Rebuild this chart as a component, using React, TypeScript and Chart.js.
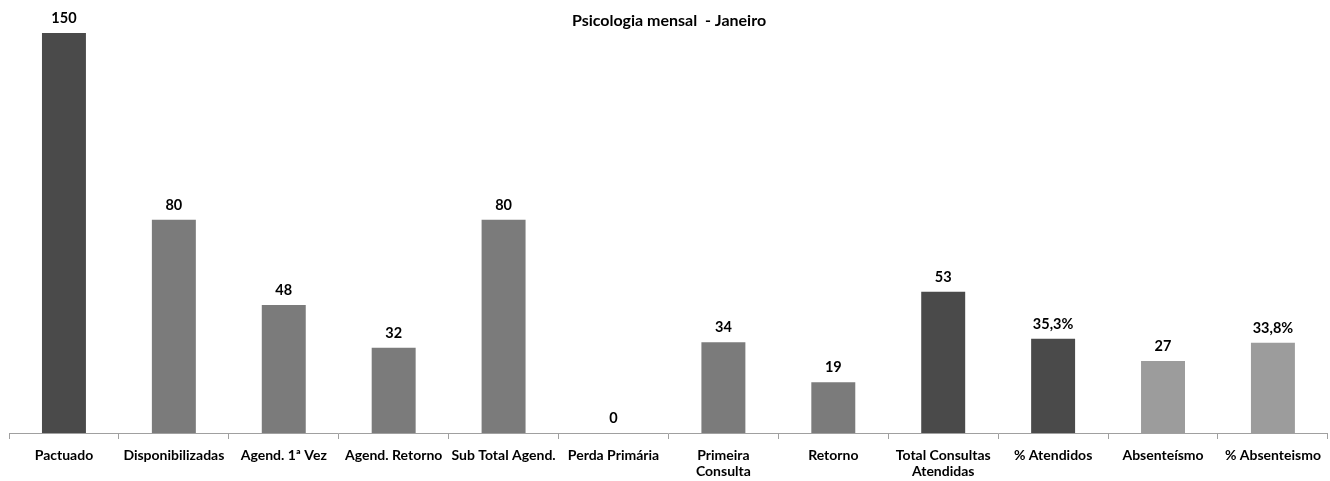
import React, { useEffect, useRef } from "react";
import { Chart, registerables } from "chart.js";

Chart.register(...registerables);

const categories: (string | string[])[] = [
  "Pactuado",
  "Disponibilizadas",
  "Agend. 1ª Vez",
  "Agend. Retorno",
  "Sub Total Agend.",
  "Perda Primária",
  ["Primeira", "Consulta"],
  "Retorno",
  ["Total Consultas", "Atendidas"],
  "% Atendidos",
  "Absenteísmo",
  "% Absenteismo",
];

const values: number[] = [150, 80, 48, 32, 80, 0, 34, 19, 53, 35.3, 27, 33.8];
const isPercent: boolean[] = [false, false, false, false, false, false, false, false, false, true, false, true];

const DARK = "#4a4a4a";
const MID = "#7b7b7b";
const LIGHT = "#9c9c9c";
const barColors: string[] = [DARK, MID, MID, MID, MID, MID, MID, MID, DARK, DARK, LIGHT, LIGHT];

const titleText = "Psicologia mensal  - Janeiro";
const FONT = "Lato";

function formatValue(v: number, pct: boolean): string {
  if (pct) return v.toFixed(1).replace(".", ",") + "%";
  return String(v);
}

const valueLabelPlugin = {
  id: "valueLabels",
  afterDatasetsDraw(chart: any) {
    const ctx = chart.ctx;
    const meta = chart.getDatasetMeta(0);
    ctx.save();
    ctx.font = `bold 14.5px ${FONT}`;
    ctx.fillStyle = "#000";
    ctx.textAlign = "center";
    ctx.textBaseline = "alphabetic";
    meta.data.forEach((bar: any, i: number) => {
      const txt = formatValue(values[i], isPercent[i]);
      ctx.fillText(txt, bar.x, bar.y - 10);
    });
    ctx.restore();
  },
};

export default function App() {
  const ref = useRef<HTMLCanvasElement | null>(null);

  useEffect(() => {
    if (!ref.current) return;
    const chart = new Chart(ref.current, {
      type: "bar",
      data: {
        labels: categories,
        datasets: [
          {
            data: values,
            backgroundColor: barColors,
            borderWidth: 0,
            barPercentage: 0.4,
            categoryPercentage: 1,
          },
        ],
      },
      options: {
        animation: false,
        responsive: false,
        maintainAspectRatio: false,
        layout: { padding: { left: 9, right: 1, top: 0, bottom: 0 } },
        plugins: {
          legend: { display: false },
          tooltip: { enabled: false },
          title: {
            display: true,
            text: titleText,
            color: "#000",
            font: { family: FONT, size: 16, weight: "bold", lineHeight: 1.0 },
            padding: { top: 13, bottom: 4 },
          },
        },
        scales: {
          y: {
            display: false,
            min: 0,
            max: 150,
          },
          x: {
            offset: true,
            grid: {
              offset: true,
              drawOnChartArea: false,
              drawTicks: true,
              tickLength: 6,
              color: "#a0a0a0",
            },
            border: { display: true, color: "#a0a0a0", width: 1 },
            ticks: {
              color: "#000",
              font: { family: FONT, size: 14, weight: "bold", lineHeight: 1.1 },
              padding: 9,
              maxRotation: 0,
              autoSkip: false,
            },
            afterFit: (scale: any) => {
              scale.height = 48;
            },
          },
        },
      },
      plugins: [valueLabelPlugin],
    });
    return () => chart.destroy();
  }, []);

  return (
    <div style={{ position: "fixed", left: 0, top: 0, width: 1330, height: 481, background: "#fff" }}>
      <canvas ref={ref} width={1330} height={481} style={{ display: "block" }} />
    </div>
  );
}
